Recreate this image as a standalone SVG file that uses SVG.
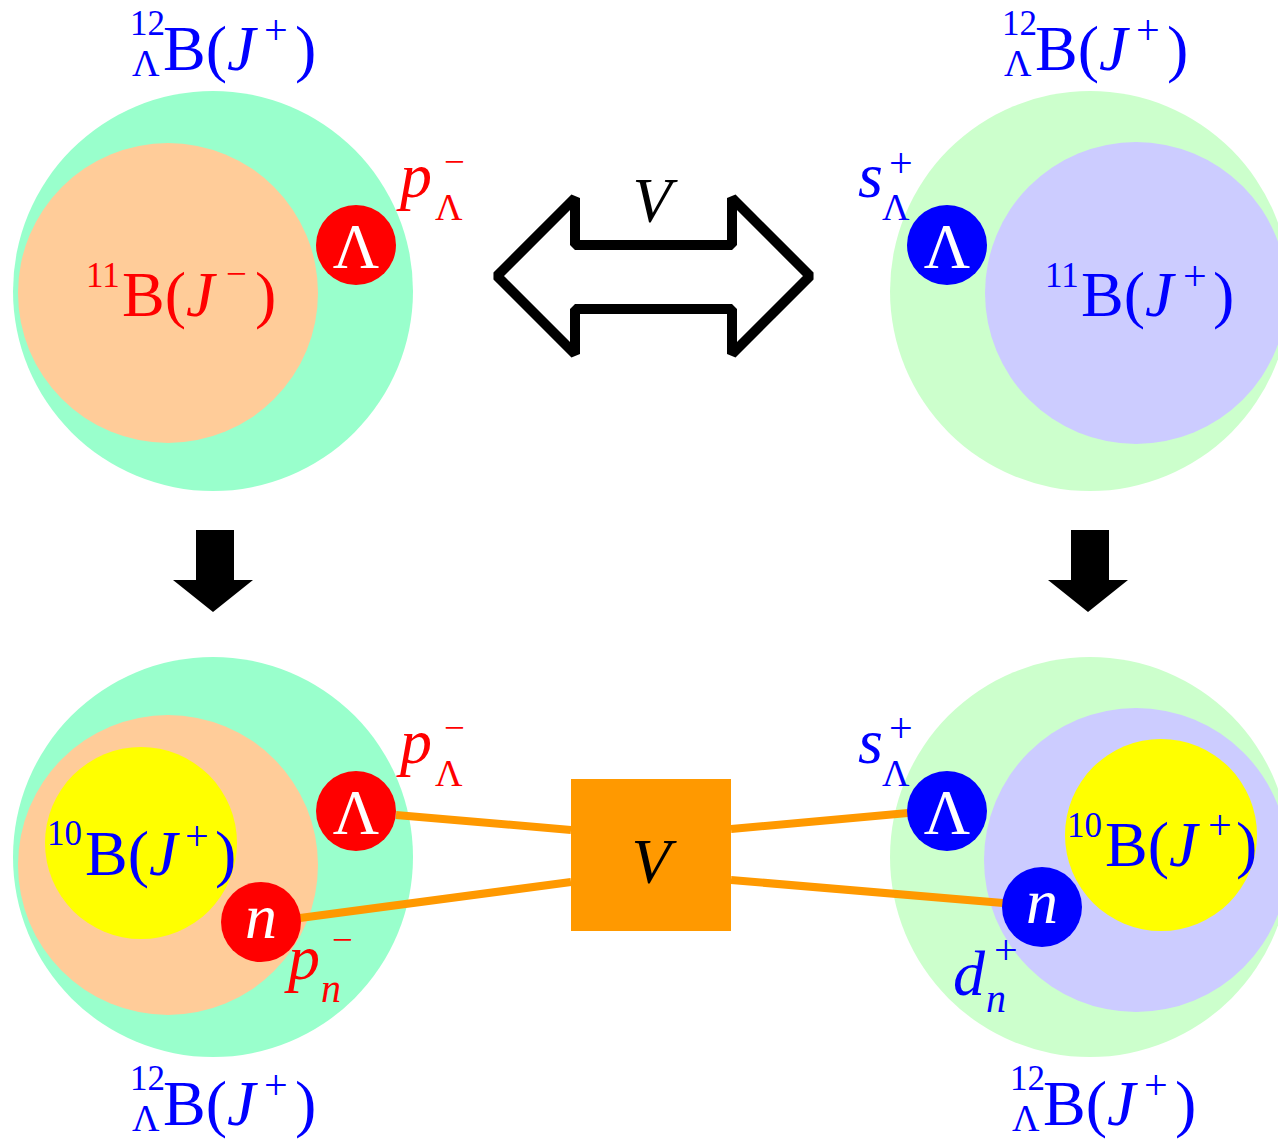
<svg xmlns="http://www.w3.org/2000/svg" width="1278" height="1141" viewBox="0 0 1278 1141">
<style>
text{font-family:"Liberation Serif","Times New Roman",serif;}
.m{font-size:64px;}
.s{font-size:35px;}
.L{font-size:38px;}
.p{font-size:42px;}
.n{font-size:40px;font-style:italic;}
.mi{font-size:37px;}
.i{font-style:italic;}
.r{fill:#ff0000;}
.b{fill:#0000ff;}
.w{fill:#ffffff;}
.k{fill:#000000;}
.line{stroke:#ff9900;stroke-width:8;fill:none;}
</style>
<rect width="1278" height="1141" fill="#ffffff"/>
<!-- top-left -->
<g id="tl-nucleus">
<circle cx="213" cy="291" r="200" fill="#99ffcc"/>
<circle cx="168" cy="293" r="150" fill="#ffcc99"/>
<text class="r"><tspan class="s" x="86" y="287">11</tspan><tspan class="m" x="122" y="316">B(</tspan><tspan class="m i" x="186" y="316">J</tspan><tspan class="mi" x="226" y="286">−</tspan><tspan class="m" x="255" y="316">)</tspan></text>
</g>
<g id="tl-label">
<text class="b"><tspan class="s" x="130" y="35">12</tspan><tspan class="L" x="132" y="76">Λ</tspan><tspan class="m" x="163" y="70">B(</tspan><tspan class="m i" x="227" y="70">J</tspan><tspan class="p" x="264" y="44">+</tspan><tspan class="m" x="295" y="70">)</tspan></text>
</g>
<g id="tl-lambda">
<circle cx="356" cy="245" r="40" fill="#ff0000"/>
<text class="m w" x="356" y="268" text-anchor="middle">Λ</text>
<text class="r"><tspan class="m i" x="400" y="197">p</tspan><tspan class="mi" x="444" y="174">−</tspan><tspan class="L" x="435" y="220">Λ</tspan></text>
</g>
<!-- top-right -->
<g id="tr-nucleus">
<circle cx="1090" cy="291" r="200" fill="#ccffcc"/>
<circle cx="1136" cy="293" r="151" fill="#ccccff"/>
<text class="b"><tspan class="s" x="1045" y="287">11</tspan><tspan class="m" x="1081" y="316">B(</tspan><tspan class="m i" x="1145" y="316">J</tspan><tspan class="p" x="1183" y="290">+</tspan><tspan class="m" x="1213" y="316">)</tspan></text>
</g>
<g id="tr-label">
<text class="b"><tspan class="s" x="1002" y="35">12</tspan><tspan class="L" x="1004" y="76">Λ</tspan><tspan class="m" x="1035" y="70">B(</tspan><tspan class="m i" x="1099" y="70">J</tspan><tspan class="p" x="1136" y="44">+</tspan><tspan class="m" x="1167" y="70">)</tspan></text>
</g>
<g id="tr-lambda">
<circle cx="947" cy="245" r="40" fill="#0000ff"/>
<text class="m w" x="947" y="268" text-anchor="middle">Λ</text>
<text class="b"><tspan class="m i" x="858" y="197">s</tspan><tspan class="p" x="889" y="177">+</tspan><tspan class="L" x="882" y="220">Λ</tspan></text>
</g>
<!-- double arrow -->
<g id="double-arrow">
<polygon points="497,276 575,198 575,245 732,245 732,198 810,276 732,354 732,309 575,309 575,354" fill="#ffffff" stroke="#000000" stroke-width="10" stroke-linejoin="bevel"/>
<text class="m i k" x="652" y="222" text-anchor="middle">V</text>
</g>
<!-- down arrows -->
<g id="down-arrow-left">
<polygon points="196,530 234,530 234,580 253,580 213,612 173,580 196,580" fill="#000000"/>
</g>
<g id="down-arrow-right">
<polygon points="1071,530 1109,530 1109,580 1128,580 1088,612 1048,580 1071,580" fill="#000000"/>
</g>
<!-- bottom-left -->
<g id="bl-nucleus">
<circle cx="213" cy="857" r="200" fill="#99ffcc"/>
<circle cx="168" cy="865" r="150" fill="#ffcc99"/>
</g>
<g id="bl-core">
<circle cx="141" cy="843" r="96" fill="#ffff00"/>
<text class="b"><tspan class="s" x="47" y="845">10</tspan><tspan class="m" x="85" y="875">B(</tspan><tspan class="m i" x="149" y="875">J</tspan><tspan class="p" x="185" y="850">+</tspan><tspan class="m" x="215" y="875">)</tspan></text>
</g>
<g id="bl-label">
<text class="b"><tspan class="s" x="130" y="1090">12</tspan><tspan class="L" x="132" y="1131">Λ</tspan><tspan class="m" x="163" y="1125">B(</tspan><tspan class="m i" x="227" y="1125">J</tspan><tspan class="p" x="264" y="1099">+</tspan><tspan class="m" x="295" y="1125">)</tspan></text>
</g>
<!-- bottom-right -->
<g id="br-nucleus">
<circle cx="1090" cy="857" r="200" fill="#ccffcc"/>
<circle cx="1136" cy="860" r="152" fill="#ccccff"/>
</g>
<g id="br-core">
<circle cx="1161" cy="835" r="96" fill="#ffff00"/>
<text class="b"><tspan class="s" x="1067" y="837">10</tspan><tspan class="m" x="1105" y="866">B(</tspan><tspan class="m i" x="1169" y="866">J</tspan><tspan class="p" x="1208" y="839">+</tspan><tspan class="m" x="1236" y="866">)</tspan></text>
</g>
<g id="br-label">
<text class="b"><tspan class="s" x="1010" y="1090">12</tspan><tspan class="L" x="1012" y="1131">Λ</tspan><tspan class="m" x="1043" y="1125">B(</tspan><tspan class="m i" x="1107" y="1125">J</tspan><tspan class="p" x="1144" y="1099">+</tspan><tspan class="m" x="1175" y="1125">)</tspan></text>
</g>
<!-- connectors -->
<g id="connectors">
<line class="line" x1="396" y1="815" x2="571" y2="830"/>
<line class="line" x1="300" y1="918" x2="571" y2="882"/>
<line class="line" x1="731" y1="829" x2="908" y2="813"/>
<line class="line" x1="731" y1="880" x2="1003" y2="903"/>
</g>
<g id="V-box">
<rect x="571" y="779" width="160" height="152" fill="#ff9900"/>
<text class="m i k" x="651" y="883" text-anchor="middle">V</text>
</g>
<g id="bl-lambda">
<circle cx="356" cy="811" r="40" fill="#ff0000"/>
<text class="m w" x="356" y="834" text-anchor="middle">Λ</text>
<text class="r"><tspan class="m i" x="400" y="763">p</tspan><tspan class="mi" x="444" y="740">−</tspan><tspan class="L" x="435" y="786">Λ</tspan></text>
</g>
<g id="bl-neutron">
<circle cx="261" cy="922" r="40" fill="#ff0000"/>
<text class="m i w" x="261" y="938" text-anchor="middle">n</text>
<text class="r"><tspan class="m i" x="288" y="979">p</tspan><tspan class="mi" x="332" y="952">−</tspan><tspan class="n" x="321" y="1002">n</tspan></text>
</g>
<g id="br-lambda">
<circle cx="947" cy="811" r="40" fill="#0000ff"/>
<text class="m w" x="947" y="834" text-anchor="middle">Λ</text>
<text class="b"><tspan class="m i" x="858" y="763">s</tspan><tspan class="p" x="889" y="742">+</tspan><tspan class="L" x="882" y="786">Λ</tspan></text>
</g>
<g id="br-neutron">
<circle cx="1042" cy="907" r="40" fill="#0000ff"/>
<text class="m i w" x="1042" y="923" text-anchor="middle">n</text>
<text class="b"><tspan class="m i" x="953" y="995">d</tspan><tspan class="p" x="994" y="964">+</tspan><tspan class="n" x="986" y="1012">n</tspan></text>
</g>
</svg>
